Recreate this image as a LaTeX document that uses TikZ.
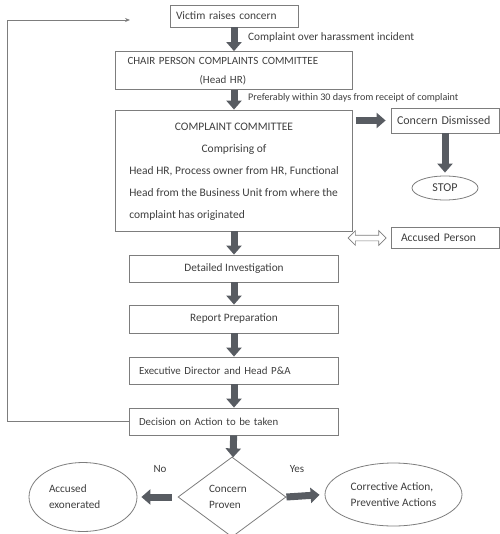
\documentclass[tikz,border=0pt]{standalone}
\usepackage{fontspec}
\setmainfont{Carlito}
\usepackage{tikz}
\usetikzlibrary{positioning, calc, shapes.geometric, shapes.arrows, arrows.meta}

\definecolor{arrowgray}{RGB}{88,92,98}
\definecolor{boxline}{RGB}{125,125,125}
\definecolor{txtgray}{RGB}{62,62,62}

\newcommand{\fsz}[2]{\fontsize{#1}{#2}\selectfont}

\tikzset{
	box/.style = {draw=boxline, line width=0.8pt, rectangle, text=txtgray, inner ysep=0pt},
	oval/.style = {draw=boxline, line width=0.8pt, ellipse, text=txtgray, inner sep=0pt},
	lbl/.style = {text=txtgray, inner sep=0pt},
	bigarrow/.style = {arrowgray, line width=7pt, -{Triangle[width=15pt, length=9pt]}},
	feedback/.style = {boxline, line width=0.8pt, -{Stealth[length=5pt, width=4pt]}}
}

\begin{document}
\begin{tikzpicture}[x=1pt, y=-1pt]
	\useasboundingbox (0,0) rectangle (499,534);

	\node[box, text width=116pt, inner xsep=6pt, minimum height=22pt, align=left, font=\fsz{11.4}{13}] (victim) at (234,16) {Victim raises concern};
	\node[box, text width=213pt, inner xsep=12pt, minimum height=35pt, align=left, font=\fsz{11}{19}] (chair) at (234,70.5) {\begin{tabular}{@{}c@{}}
			CHAIR PERSON COMPLAINTS COMMITTEE \\
			(Head HR)
		\end{tabular}};
	\node[box, minimum width=237pt, minimum height=121pt, font=\fsz{11.5}{22}] (comm) at (234,170.5) {\begin{tabular}{@{}l@{}}
			\multicolumn{1}{@{}c@{}}{COMPLAINT COMMITTEE} \\
			\multicolumn{1}{@{}c@{}}{Comprising of} \\
			Head HR, Process owner from HR, Functional \\
			Head from the Business Unit from where the \\
			complaint has originated
		\end{tabular}};

	\node[box, text width=96pt, inner xsep=6pt, minimum height=25pt, align=left, font=\fsz{12}{14}] (dism) at (445,120.5) {Concern Dismissed};
	\node[oval, minimum width=66pt, minimum height=24pt, font=\fsz{12}{14}] (stop) at (445,188) {STOP};
	\node[box, text width=88pt, inner xsep=10pt, minimum height=21pt, align=left, font=\fsz{11.6}{13}] (accp) at (445,238) {Accused Person};
	\node[double arrow, draw=boxline, line width=0.7pt, minimum height=38pt, inner sep=2.5pt, double arrow head extend=4.5pt] (dbl) at (367,238) {};

	\node[box, minimum width=209pt, minimum height=27pt, font=\fsz{11.3}{13}] (inv) at (234,268.5) {Detailed Investigation};
	\node[box, minimum width=209pt, minimum height=28pt, font=\fsz{11.3}{13}] (rep) at (234,319) {Report Preparation};
	\node[box, text width=190pt, inner xsep=9.5pt, minimum height=27pt, align=left, font=\fsz{10.9}{13}] (exec) at (234,370.5) {Executive Director and Head P\&A};
	\node[box, text width=190pt, inner xsep=9.5pt, minimum height=27pt, align=left, font=\fsz{10.8}{13}] (dec) at (234,421.5) {Decision on Action to be taken};

	\node[diamond, draw=boxline, line width=0.8pt, text=txtgray, minimum width=108pt, minimum height=80pt, inner sep=0pt, text width=46pt, align=left, font=\fsz{11.2}{16}] (dia) at (232,497) {Concern\\Proven};
	\node[oval, minimum width=108pt, minimum height=69pt, text width=68pt, align=left, font=\fsz{11.2}{16}] (exon) at (83,497) {Accused\\exonerated};
	\node[oval, minimum width=137pt, minimum height=63pt, align=left, font=\fsz{11.4}{16}] (corr) at (393.5,494.5) {Corrective Action,\\Preventive Actions};

	\node[lbl, anchor=west, font=\fsz{11.3}{13}] (lblA) at (248,37) {Complaint over harassment incident};
	\node[lbl, anchor=west, font=\fsz{10.1}{12}] (lblB) at (248,98) {Preferably within 30 days from receipt of complaint};
	\node[lbl, font=\fsz{11}{13}] (no) at (160,469) {No};
	\node[lbl, font=\fsz{11}{13}] (yes) at (297,469) {Yes};

	\coordinate (fbturn) at (7,20);
	\coordinate (fbend) at (130,20);

	\draw[bigarrow] (victim) -- (chair);
	\draw[bigarrow] (chair) -- (comm);
	\draw[bigarrow, shorten <=3pt, shorten >=5pt] (comm.east |- dism.west) -- (dism.west);
	\draw[bigarrow, shorten >=3pt] (dism.south) -- (stop.north);
	\draw[bigarrow] (comm) -- (inv);
	\draw[bigarrow] (inv) -- (rep);
	\draw[bigarrow] (rep) -- (exec);
	\draw[bigarrow] (exec) -- (dec);
	\draw[bigarrow] (dec) -- (dia);
	\draw[bigarrow, shorten <=6pt, shorten >=4pt] (dia.west) -- (exon.east);
	\draw[bigarrow, shorten >=5pt] (dia.east) -- (corr.west);
	\draw[feedback] (dec.west) -| (fbturn) -- (fbend);
\end{tikzpicture}
\end{document}
